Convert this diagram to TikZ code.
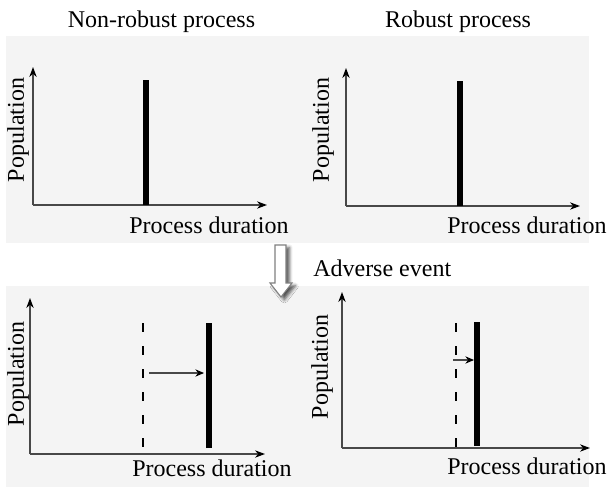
\documentclass[tikz,border=0pt]{standalone}
\usepackage{fontspec}
\setmainfont{Liberation Serif}
\usetikzlibrary{arrows.meta,shadows.blur}
\definecolor{panelgray}{HTML}{F4F4F4}
\definecolor{axisgray}{HTML}{484848}
\definecolor{outlinegray}{HTML}{808080}
\begin{document}
\begin{tikzpicture}[x=0.75pt,y=-0.75pt,
  panel/.style={fill=panelgray,draw=none},
  axisline/.style={draw=axisgray,line width=0.9pt,-{Stealth[length=7.5pt,width=5.5pt,color=black]}},
  bar/.style={line width=4.5pt,black},
  oldpos/.style={line width=1.3pt,black,dash pattern=on 6.75pt off 10.5pt},
  shiftarrow/.style={draw=axisgray,line width=0.8pt,-{Stealth[length=6.5pt,width=5.5pt,color=black]}},
  lbl/.style={font=\fontsize{18pt}{20pt}\selectfont,inner sep=0pt},
  ylbl/.style={lbl,rotate=90}
]
\useasboundingbox (0,0) rectangle (608,487);

% background panels
\fill[panel] (6,36) rectangle (589,243);
\fill[panel] (6,286) rectangle (589,487);

% column titles
\node[lbl] (t1) at (161.5,22) {Non-robust process};
\node[lbl] (t2) at (458,22) {Robust process};

% --- top left chart ---
\coordinate (o1) at (33,205);
\coordinate (y1) at (33,67);
\coordinate (x1) at (267,205);
\draw[axisline] (o1) -- (y1);
\draw[axisline] (o1) -- (x1);
\coordinate (b1t) at (146,80);
\coordinate (b1b) at (146,205);
\draw[bar] (b1b) -- (b1t);
\node[ylbl] (p1) at (18,130) {Population};
\node[lbl] (d1) at (209,225) {Process duration};

% --- top right chart ---
\coordinate (o2) at (346,206);
\coordinate (y2) at (346,68);
\coordinate (x2) at (580,206);
\draw[axisline] (o2) -- (y2);
\draw[axisline] (o2) -- (x2);
\coordinate (b2t) at (460,81);
\coordinate (b2b) at (460,206);
\draw[bar] (b2b) -- (b2t);
\node[ylbl] (p2) at (323,130) {Population};
\node[lbl] (d2) at (527,225) {Process duration};

% --- event arrow ---
\draw[draw=outlinegray,fill=white,line width=0.8pt,
      blur shadow={shadow xshift=2.5pt,shadow yshift=-2pt,shadow blur radius=2.5pt,shadow opacity=70}]
  (275,245) -- (286,245) -- (286,283) -- (292,283) -- (281,297) -- (270,283) -- (275,283) -- cycle;
\node[lbl,anchor=west] (ev) at (313,268) {Adverse event};

% --- bottom left chart ---
\coordinate (o3) at (30,454);
\coordinate (y3) at (30,298);
\coordinate (x3) at (265,454);
\draw[axisline] (o3) -- (y3);
\draw[axisline] (o3) -- (x3);
\coordinate (dl3t) at (143,323);
\coordinate (dl3b) at (143,447);
\draw[oldpos] (dl3t) -- (dl3b);
\coordinate (b3t) at (209,323);
\coordinate (b3b) at (209,448);
\draw[bar] (b3b) -- (b3t);
\coordinate (s3a) at (149,373);
\coordinate (s3b) at (204,373);
\draw[shiftarrow] (s3a) -- (s3b);
\node[ylbl] (p3) at (18,374) {Population};
\node[lbl] (d3) at (212,468) {Process duration};

% --- bottom right chart ---
\coordinate (o4) at (342,448);
\coordinate (y4) at (342,292);
\coordinate (x4) at (590,448);
\draw[axisline] (o4) -- (y4);
\draw[axisline] (o4) -- (x4);
\coordinate (dl4t) at (456,323);
\coordinate (dl4b) at (456,448);
\draw[oldpos] (dl4t) -- (dl4b);
\coordinate (b4t) at (477,322);
\coordinate (b4b) at (477,446);
\draw[bar] (b4b) -- (b4t);
\coordinate (s4a) at (453,360);
\coordinate (s4b) at (474,360);
\draw[shiftarrow] (s4a) -- (s4b);
\node[ylbl] (p4) at (322,367) {Population};
\node[lbl] (d4) at (527,466) {Process duration};
\end{tikzpicture}
\end{document}
